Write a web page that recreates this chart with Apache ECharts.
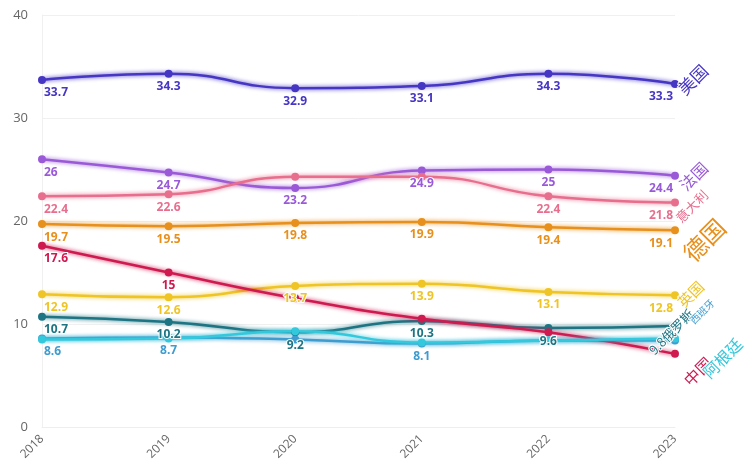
<!DOCTYPE html>
<html><head><meta charset="utf-8">
<script src="https://cdn.jsdelivr.net/npm/echarts@6/dist/echarts.min.js"></script>
<style>html,body{margin:0;padding:0;background:#fff}#c{width:746px;height:472px}</style>
</head><body><div id="c"></div>
<script>
const years = ['2018','2019','2020','2021','2022','2023'];
const names = ['美国','法国','意大利','德国','英国','俄罗斯','西班牙','中国','阿根廷'];
const usa = [33.7,34.3,32.9,33.1,34.3,33.3];
const france = [26,24.7,23.2,24.9,25,24.4];
const italy = [22.4,22.6,24.3,24.3,22.4,21.8];
const germany = [19.7,19.5,19.8,19.9,19.4,19.1];
const uk = [12.9,12.6,13.7,13.9,13.1,12.8];
const russia = [10.7,10.2,9.2,10.3,9.6,9.8];
const spain = [8.6,8.7,8.5,8.1,8.4,8.4];
const china = [17.6,15,12.5,10.5,9.2,7.1];
const argentina = [8.5,8.6,9.3,8.2,8.4,8.6];
const yTicks = [0,10,20,30,40];
// value labels that the reference does not show (hidden by overlap there)
const hiddenLabels = {'意大利':[2,3],'俄罗斯':[5],'西班牙':[2,4,5],'中国':[2,3,4,5],'阿根廷':[0,1,2,3,4,5]};

const seriesValues = [usa,france,italy,germany,uk,russia,spain,china,argentina];
const colors = ['#4636c4','#9a5ad8','#e86e8e','#e8901c','#efc526','#1d7483','#3f9ccf','#cf1a50','#33c8dc'];
const endFont = [17,16,13,24,15,13,10,16,16];
const endOffset = [[-7,4],[-9,8],[-16,9],[-16,22],[-9,5],[-41,-4],[19,-7],[-18,23],[-10,42]];

const series = names.map((n,i)=>({
  name:n, type:'line', smooth:true, symbol:'circle', symbolSize:8,
  data: seriesValues[i].map((v,j)=> {
    const hidden = (hiddenLabels[n]||[]).indexOf(j) >= 0;
    const lab = {show:!hidden};
    if (j===0) { lab.align='left'; lab.offset=[2,0]; }
    if (j===years.length-1) { lab.align='right'; lab.offset=[-2,0]; }
    return {value:v,label:lab};
  }),
  lineStyle:{width:2.5,color:colors[i],shadowColor:colors[i],shadowBlur:4},
  itemStyle:{color:colors[i]},
  label:{show:true,position:'bottom',distance:3,color:colors[i],fontWeight:'bold',fontSize:12,fontFamily:'Open Sans',
    textBorderColor:'#fff',textBorderWidth:2},
  endLabel:{show:true,formatter:(p)=> p.seriesName==='俄罗斯' ? p.value+p.seriesName : p.seriesName,
    rotate:45,color:colors[i],fontSize:endFont[i],fontFamily:'Noto Sans CJK SC',
    offset:endOffset[i],textBorderColor:'#fff',textBorderWidth:2},
  animation:false
}));

const chart = echarts.init(document.getElementById('c'));
chart.setOption({
  animation:false,
  color:colors,
  grid:{left:42,right:71,top:15,bottom:45},
  xAxis:{type:'category',data:years,boundaryGap:false,
    axisLine:{lineStyle:{color:'#eeeeee'}},axisTick:{show:false},
    axisLabel:{rotate:45,color:'#666',fontSize:12,fontFamily:'Open Sans',margin:10},
    splitLine:{show:false}},
  yAxis:{type:'value',min:yTicks[0],max:yTicks[yTicks.length-1],interval:10,
    axisLine:{show:true,lineStyle:{color:'#f0f0f0'}},axisTick:{show:false},
    axisLabel:{color:'#666',fontSize:13,fontFamily:'Open Sans',margin:14},
    splitLine:{lineStyle:{color:'#f0f0f0'}}},
  series:series
});
</script></body></html>
